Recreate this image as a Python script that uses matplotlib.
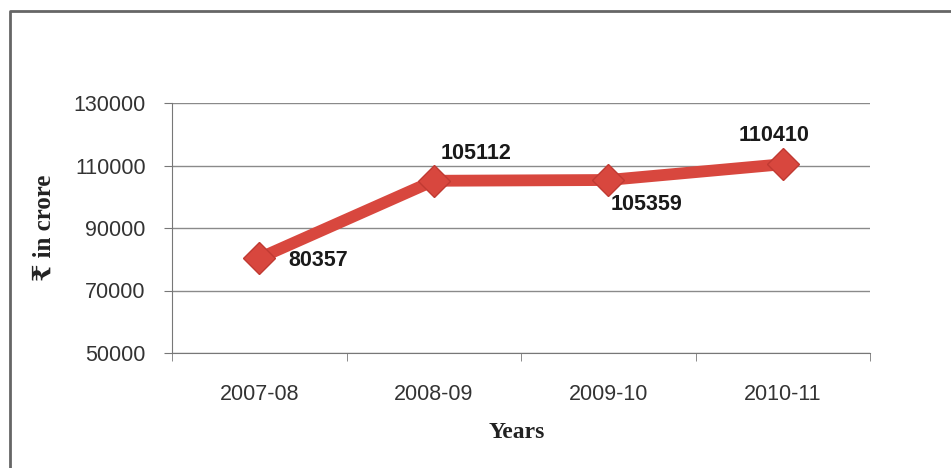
import matplotlib.pyplot as plt
from matplotlib.lines import Line2D

years = ["2007-08", "2008-09", "2009-10", "2010-11"]
values = [80357, 105112, 105359, 110410]
# label offsets in pixels (dx, dy) and alignment, by point
label_pos = [(29, -2, "left", "center"), (7, 27, "left", "center"),
             (2, -24, "left", "center"), (-44, 29, "left", "center")]

fig = plt.figure(figsize=(9.51, 4.68), dpi=100)
ax = fig.add_axes([172/951, 115/468, 698/951, 250/468])

red = "#d8473e"
ax.plot(range(len(years)), values, color=red, lw=8.5, marker="D", ms=16,
        mfc=red, mec="#c03a32", mew=1, solid_joinstyle="miter", zorder=3)

for i, v in enumerate(values):
    dx, dy, ha, va = label_pos[i]
    ax.annotate(str(v), (i, v), xytext=(dx*0.72, dy*0.72), textcoords="offset points",
                ha=ha, va=va, fontsize=15.5, fontweight="bold",
                family="Liberation Sans", color="#1a1a1a")

ax.set_xlim(-0.5, len(years) - 0.5)
ax.set_ylim(50000, 130000)
ax.set_yticks([50000, 70000, 90000, 110000, 130000])
ax.set_xticks(range(len(years)))
ax.set_xticklabels(years)
ax.set_xticks([i - 0.5 for i in range(len(years) + 1)], minor=True)
ax.tick_params(axis="x", which="major", length=0, pad=22)
ax.tick_params(axis="x", which="minor", length=6, color="#777777", direction="out")
ax.tick_params(axis="y", length=6, color="#777777", pad=13)
for lab in ax.get_xticklabels() + ax.get_yticklabels():
    lab.set_family("Liberation Sans")
    lab.set_fontsize(15.5)
    lab.set_color("#333333")

ax.grid(axis="y", color="#8a8a8a", lw=1)
ax.set_axisbelow(True)
for s in ["top", "right"]:
    ax.spines[s].set_visible(False)
for s in ["left", "bottom"]:
    ax.spines[s].set_color("#777777")

fig.text(44/951, 1 - 228/468, "₹ in crore", rotation=90, ha="center", va="center",
         fontsize=18, fontweight="bold", family=["Liberation Serif", "DejaVu Serif", "DejaVu Sans"],
         color="#222222")
fig.text(517/951, 1 - 432/468, "Years", ha="center", va="center",
         fontsize=17, fontweight="bold", family="Liberation Serif", color="#222222")

# outer frame (left and top edges)
fig.add_artist(Line2D([10/951, 10/951, 1.0], [0.0, 1 - 11/468, 1 - 11/468],
                      transform=fig.transFigure, color="#666666", lw=2))

fig.savefig("out.png", dpi=100)
